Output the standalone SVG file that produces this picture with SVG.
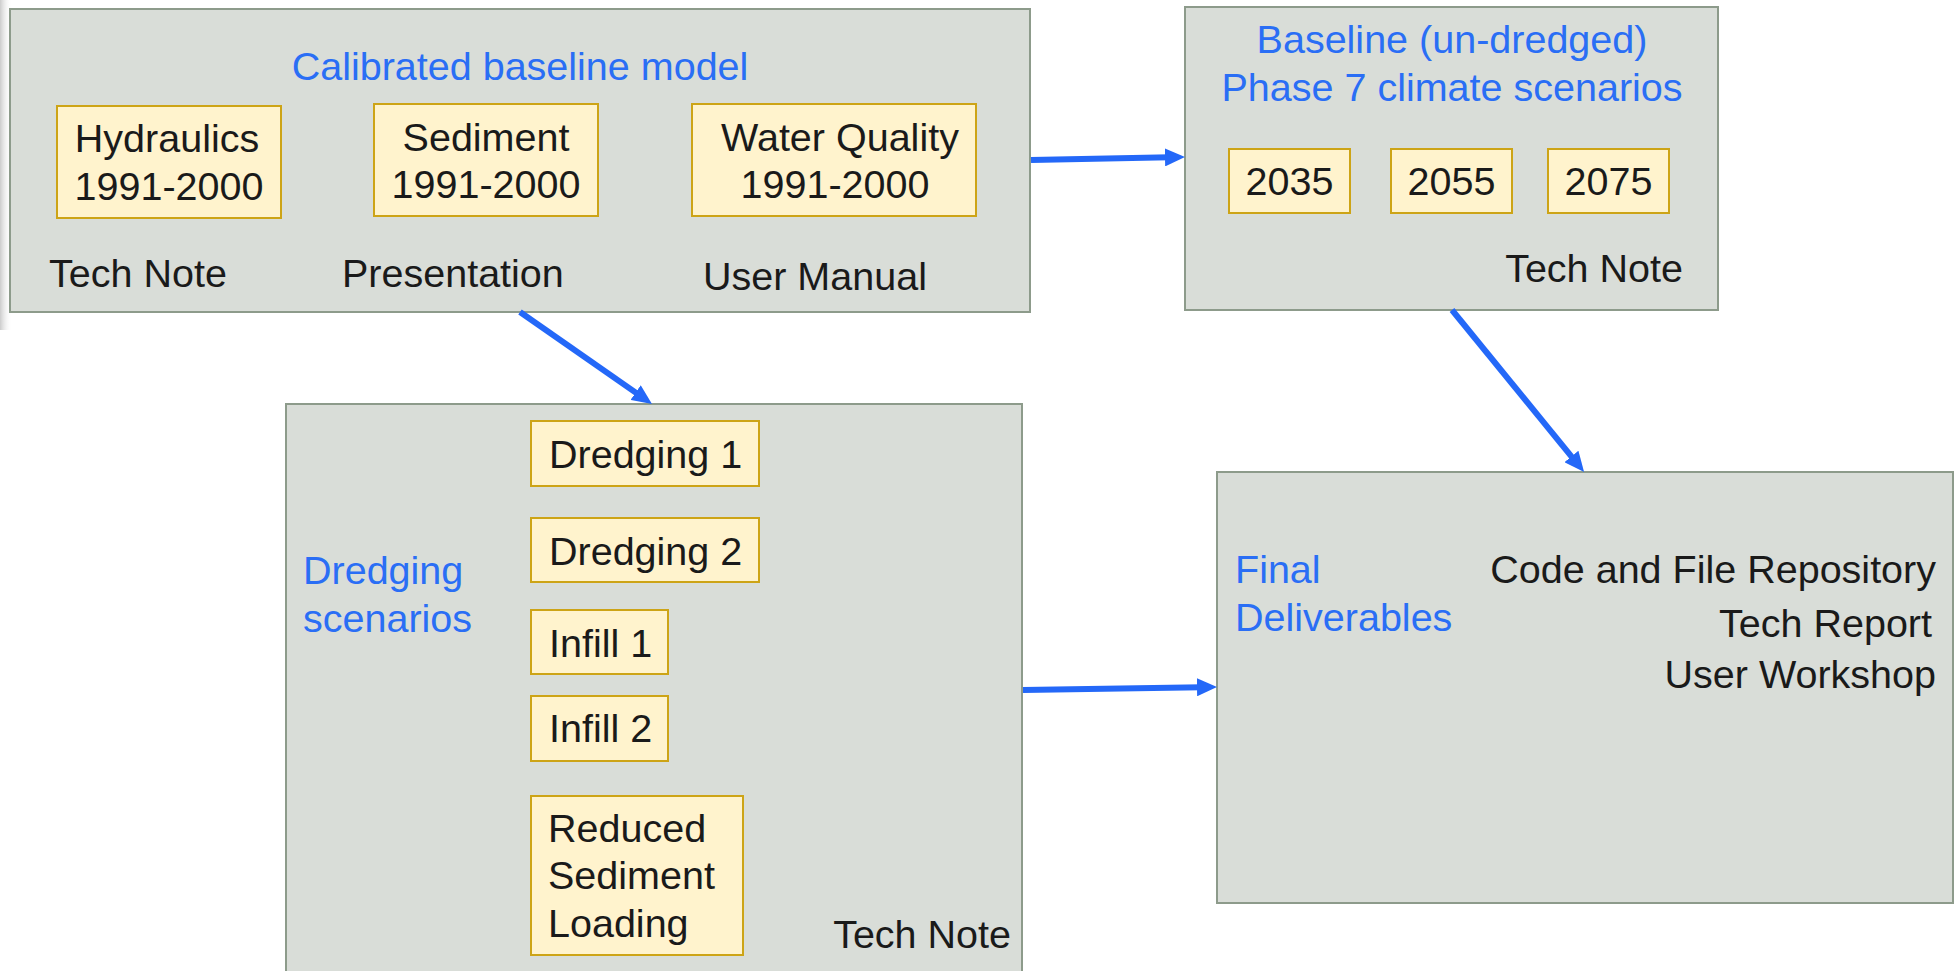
<svg xmlns="http://www.w3.org/2000/svg" width="1957" height="971" viewBox="0 0 1957 971">
  <defs>
    <style>
      .panel { fill: #d9ddd8; stroke: #8d9b8b; stroke-width: 2; }
      .item { fill: #fff3cd; stroke: #cda416; stroke-width: 2; }
      .t { font-family: "Liberation Sans", Arial, sans-serif; font-size: 39.5px; fill: #1a1a1a; }
      .h { font-family: "Liberation Sans", Arial, sans-serif; font-size: 39.5px; fill: #2a6ef5; }
      .mid { text-anchor: middle; }
      .end { text-anchor: end; }
      .conn { stroke: #2468f8; stroke-width: 6; fill: none; }
    </style>
    <marker id="arrow" viewBox="0 0 20 18" markerWidth="20" markerHeight="18" refX="5" refY="9" orient="auto" markerUnits="userSpaceOnUse">
      <path d="M0,0 L20,9 L0,18 z" fill="#2468f8"/>
    </marker>
    <linearGradient id="edge" x1="0" y1="0" x2="1" y2="0">
      <stop offset="0" stop-color="#cccccc"/>
      <stop offset="1" stop-color="#ffffff" stop-opacity="0"/>
    </linearGradient>
  </defs>

  <rect x="0" y="0" width="1957" height="971" fill="#ffffff"/>
  <rect x="0" y="0" width="12" height="330" fill="url(#edge)"/>

  <g id="calibrated-baseline">
    <rect class="panel" x="10" y="9" width="1020" height="303"/>
    <text class="h mid" x="520" y="80">Calibrated baseline model</text>
    <g id="hydraulics">
      <rect class="item" x="57" y="106" width="224" height="112"/>
      <text class="t mid" x="167" y="152">Hydraulics</text>
      <text class="t mid" x="169" y="200">1991-2000</text>
    </g>
    <g id="sediment">
      <rect class="item" x="374" y="104" width="224" height="112"/>
      <text class="t mid" x="486" y="151">Sediment</text>
      <text class="t mid" x="486" y="198">1991-2000</text>
    </g>
    <g id="water-quality">
      <rect class="item" x="692" y="104" width="284" height="112"/>
      <text class="t mid" x="840" y="151">Water Quality</text>
      <text class="t mid" x="835" y="198">1991-2000</text>
    </g>
    <text class="t" x="49" y="287">Tech Note</text>
    <text class="t" x="342" y="287">Presentation</text>
    <text class="t" x="703" y="290">User Manual</text>
  </g>

  <g id="baseline-climate">
    <rect class="panel" x="1185" y="7" width="533" height="303"/>
    <text class="h mid" x="1452" y="53">Baseline (un-dredged)</text>
    <text class="h mid" x="1452" y="101">Phase 7 climate scenarios</text>
    <g id="y2035">
      <rect class="item" x="1229" y="149" width="121" height="64"/>
      <text class="t mid" x="1289.5" y="195">2035</text>
    </g>
    <g id="y2055">
      <rect class="item" x="1391" y="149" width="121" height="64"/>
      <text class="t mid" x="1451.5" y="195">2055</text>
    </g>
    <g id="y2075">
      <rect class="item" x="1548" y="149" width="121" height="64"/>
      <text class="t mid" x="1608.5" y="195">2075</text>
    </g>
    <text class="t end" x="1683" y="282">Tech Note</text>
  </g>

  <g id="dredging-scenarios">
    <rect class="panel" x="286" y="404" width="736" height="580"/>
    <text class="h" x="303" y="584">Dredging</text>
    <text class="h" x="303" y="632">scenarios</text>
    <g id="dredging1">
      <rect class="item" x="531" y="421" width="228" height="65"/>
      <text class="t" x="549" y="468">Dredging 1</text>
    </g>
    <g id="dredging2">
      <rect class="item" x="531" y="518" width="228" height="64"/>
      <text class="t" x="549" y="565">Dredging 2</text>
    </g>
    <g id="infill1">
      <rect class="item" x="531" y="610" width="137" height="64"/>
      <text class="t" x="549" y="657">Infill 1</text>
    </g>
    <g id="infill2">
      <rect class="item" x="531" y="696" width="137" height="65"/>
      <text class="t" x="549" y="742">Infill 2</text>
    </g>
    <g id="reduced-sediment">
      <rect class="item" x="531" y="796" width="212" height="159"/>
      <text class="t" x="548" y="842">Reduced</text>
      <text class="t" x="548" y="889">Sediment</text>
      <text class="t" x="548" y="937">Loading</text>
    </g>
    <text class="t end" x="1011" y="948">Tech Note</text>
  </g>

  <g id="final-deliverables">
    <rect class="panel" x="1217" y="472" width="736" height="431"/>
    <text class="h" x="1235" y="583">Final</text>
    <text class="h" x="1235" y="631">Deliverables</text>
    <text class="t end" x="1936" y="583">Code and File Repository</text>
    <text class="t end" x="1932" y="637">Tech Report</text>
    <text class="t end" x="1936" y="688">User Workshop</text>
  </g>

  <g id="connectors">
    <line class="conn" x1="1031" y1="160" x2="1170" y2="157.3" marker-end="url(#arrow)"/>
    <line class="conn" x1="520" y1="312" x2="639.7" y2="395.4" marker-end="url(#arrow)"/>
    <line class="conn" x1="1452" y1="310" x2="1574.6" y2="460.3" marker-end="url(#arrow)"/>
    <line class="conn" x1="1023" y1="690" x2="1202" y2="687.2" marker-end="url(#arrow)"/>
  </g>
</svg>
